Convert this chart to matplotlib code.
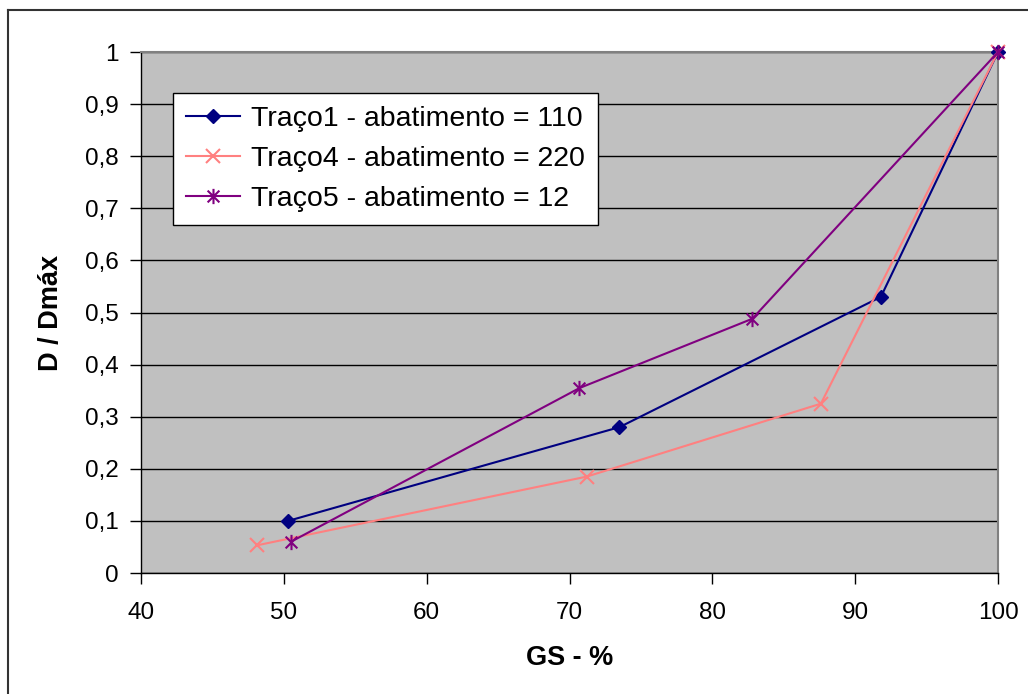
import matplotlib.pyplot as plt
import numpy as np
from matplotlib.path import Path
from matplotlib.lines import Line2D

plt.rcParams["font.family"] = ["Liberation Sans", "DejaVu Sans"]

# GS (%) vs D/Dmax for each mix
gs_traco1 = [50.3, 73.5, 91.8, 100.0]
d_traco1 = [0.10, 0.28, 0.53, 1.0]

gs_traco4 = [48.1, 71.2, 87.6, 100.0]
d_traco4 = [0.053, 0.185, 0.325, 1.0]

gs_traco5 = [50.5, 70.7, 82.8, 100.0]
d_traco5 = [0.06, 0.355, 0.488, 1.0]

labels = [
    "Traço1 - abatimento = 110",
    "Traço4 - abatimento = 220",
    "Traço5 - abatimento = 12",
]
x_ticks = [40, 50, 60, 70, 80, 90, 100]
y_ticks = [0, 0.1, 0.2, 0.3, 0.4, 0.5, 0.6, 0.7, 0.8, 0.9, 1.0]
y_tick_labels = ["0", "0,1", "0,2", "0,3", "0,4", "0,5", "0,6", "0,7", "0,8", "0,9", "1"]

# asterisk marker: x with a vertical bar
star = Path(
    [(-1, -1), (1, 1), (-1, 1), (1, -1), (0, -1.3), (0, 1.3)],
    [Path.MOVETO, Path.LINETO, Path.MOVETO, Path.LINETO, Path.MOVETO, Path.LINETO],
)

fig = plt.figure(figsize=(10.28, 6.94), dpi=100)
ax = fig.add_axes([141 / 1028, 1 - 573 / 694, (998 - 141) / 1028, (573 - 52) / 694])
ax.set_facecolor("#C0C0C0")

ax.plot(gs_traco1, d_traco1, color="#000080", lw=1.5, marker="D", ms=7,
        mfc="#000080", mec="#000080", label=labels[0], clip_on=False, zorder=3)
ax.plot(gs_traco4, d_traco4, color="#FF8080", lw=1.5, marker="x", ms=10,
        mew=1.5, label=labels[1], clip_on=False, zorder=3)
ax.plot(gs_traco5, d_traco5, color="#800080", lw=1.5, marker=star, ms=11,
        mew=1.5, fillstyle="none", label=labels[2], clip_on=False, zorder=3)

ax.set_xlim(40, 100)
ax.set_ylim(0, 1)
ax.set_xticks(x_ticks)
ax.set_yticks(y_ticks)
ax.set_yticklabels(y_tick_labels)
ax.tick_params(direction="out", length=8, width=1, labelsize=17.5)
ax.tick_params(axis="y", pad=8)
ax.tick_params(axis="x", pad=13)
ax.yaxis.grid(True, color="black", lw=1)
ax.set_axisbelow(True)

for side in ("top", "right"):
    ax.spines[side].set_color("#808080")
    ax.spines[side].set_linewidth(1.5)
for side in ("left", "bottom"):
    ax.spines[side].set_color("black")
    ax.spines[side].set_linewidth(1)

ax.set_xlabel("GS - %", fontsize=19.5, fontweight="bold", labelpad=15)
ax.set_ylabel("D / Dmáx", fontsize=19.5, fontweight="bold", labelpad=15)

leg = ax.legend(loc="upper left", bbox_to_anchor=(173 / 1028, 1 - 93 / 694),
                bbox_transform=fig.transFigure, borderaxespad=0, fontsize=20.5,
                fancybox=False, framealpha=1, edgecolor="black",
                handlelength=1.9, handletextpad=0.4, borderpad=0.45,
                labelspacing=0.5)
leg.get_frame().set_linewidth(1)

# outer chart border (left and top edges)
fig.add_artist(Line2D([8 / 1028, 8 / 1028], [0, 1 - 10 / 694], color="#333333", lw=1.5,
                      transform=fig.transFigure))
fig.add_artist(Line2D([8 / 1028, 1], [1 - 10 / 694, 1 - 10 / 694], color="#333333", lw=1.5,
                      transform=fig.transFigure))

fig.savefig("out.png", dpi=100)
